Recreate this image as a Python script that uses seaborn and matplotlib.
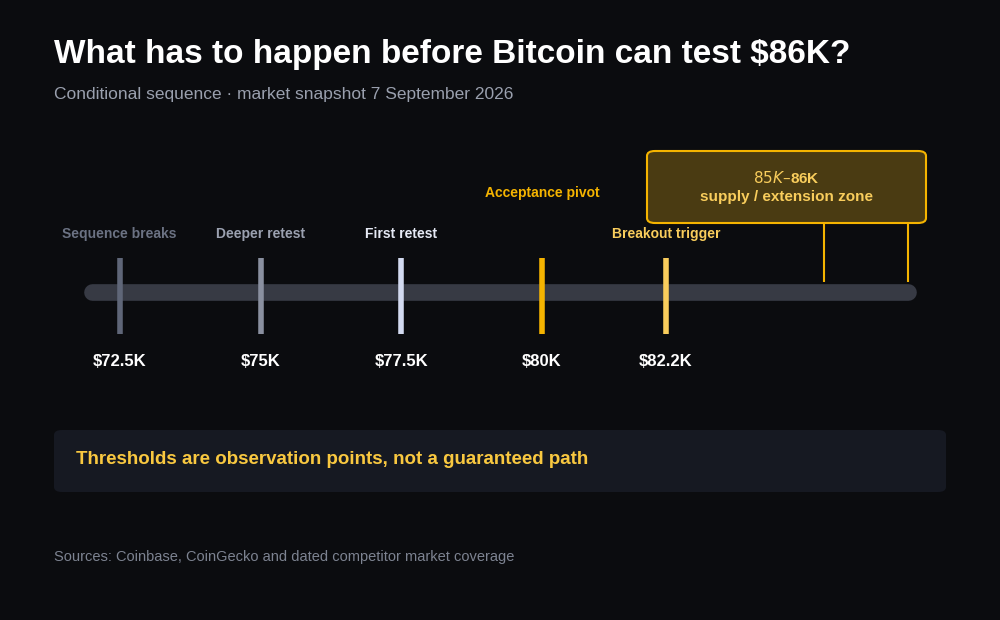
import matplotlib
matplotlib.use("Agg")
import matplotlib.pyplot as plt
from matplotlib.patches import FancyBboxPatch
import seaborn as sns
import pandas as pd

# data
prices = [72.5, 75.0, 77.5, 80.0, 82.2]
price_labels = ["$72.5K", "$75K", "$77.5K", "$80K", "$82.2K"]
stage_names = ["Sequence breaks", "Deeper retest", "First retest", "Acceptance pivot", "Breakout trigger"]
stage_colors = ["#5f6678", "#8a90a0", "#d3daf0", "#f5b400", "#f9cd5c"]
label_colors = ["#6b7283", "#9ba1b0", "#e6eaf5", "#f5b400", "#f9cd5c"]
zone_lo, zone_hi = 85.0, 86.0
track_lo, track_hi = 72.0, 86.5

BG = "#0b0c0f"
sns.set_style("dark")
plt.rcParams["font.family"] = ["Liberation Sans", "DejaVu Sans"]

fig = plt.figure(figsize=(10, 6.2), dpi=100, facecolor=BG)
ax = fig.add_axes([0, 0, 1, 1])
ax.set_facecolor(BG)
px = 56.3  # pixels per $1K
ax.set_xlim(80 - 542 / px, 80 + 458 / px)
ax.set_ylim(620, 0)
ax.axis("off")

def fx(v):
    return 542 + (v - 80) * px

# track
track = pd.DataFrame({"price": [track_lo, track_hi], "y": [292, 292]})
sns.lineplot(data=track, x="price", y="y", ax=ax, color="#373a44", linewidth=12,
             solid_capstyle="round", legend=False)

# markers
for v, name, c, lc, lab in zip(prices, stage_names, stage_colors, label_colors, price_labels):
    ax.vlines(v, 258, 334, color=c, linewidth=4, zorder=3)
    ty = 193 if name == "Acceptance pivot" else 234
    ax.text(v, ty, name, color=lc, fontsize=10, fontweight="bold", ha="center", va="center")
    ax.text(v, 361, lab, color="white", fontsize=12, fontweight="bold", ha="center", va="center")

# zone
ax.vlines([zone_lo, track_hi], 222, 282, color="#f5b400", linewidth=1.5, zorder=2)
x0, x1 = 647, 926
zone = FancyBboxPatch((x0, 151), x1 - x0, 72, boxstyle="round,pad=0,rounding_size=8",
                      transform=matplotlib.transforms.blended_transform_factory(
                          fig.transFigure, ax.transData) if False else None,
                      fc="#4a3b12", ec="#f5b400", lw=1.5)
zone = FancyBboxPatch((x0 / 1000, 1 - 223 / 620), (x1 - x0) / 1000, 72 / 620,
                      boxstyle="round,pad=0,rounding_size=0.008", transform=fig.transFigure,
                      fc="#4a3b12", ec="#f5b400", lw=1.5, zorder=4)
fig.patches.append(zone)
fig.text(786 / 1000, 1 - 187 / 620, f"${zone_lo:.0f}K–${zone_hi:.0f}K\nsupply / extension zone",
         color="#f9cd5c", fontsize=11, fontweight="bold", ha="center", va="center",
         linespacing=1.3, zorder=5)

# note box
note = FancyBboxPatch((54 / 1000, 1 - 492 / 620), 892 / 1000, 62 / 620,
                      boxstyle="round,pad=0,rounding_size=0.008", transform=fig.transFigure,
                      fc="#161922", ec="none", zorder=1)
fig.patches.append(note)
fig.text(76 / 1000, 1 - 460 / 620, "Thresholds are observation points, not a guaranteed path",
         color="#f9c840", fontsize=13.5, fontweight="bold", va="center")

# titles
fig.text(54 / 1000, 1 - 55 / 620, "What has to happen before Bitcoin can test $86K?",
         color="white", fontsize=24, fontweight="bold", va="center")
fig.text(54 / 1000, 1 - 95 / 620, "Conditional sequence · market snapshot 7 September 2026",
         color="#9aa0ae", fontsize=12.5, va="center")
fig.text(54 / 1000, 1 - 557 / 620, "Sources: Coinbase, CoinGecko and dated competitor market coverage",
         color="#7d8391", fontsize=10.5, va="center")

fig.savefig("out.png", dpi=100, facecolor=BG)
